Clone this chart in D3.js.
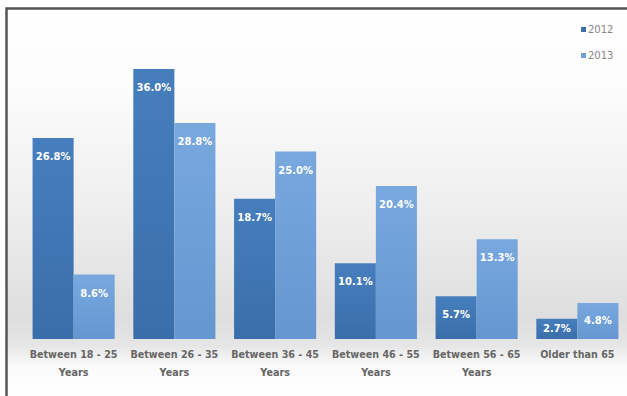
<!DOCTYPE html>
<html><head><meta charset="utf-8">
<script src="https://cdn.jsdelivr.net/npm/d3@7"></script>
<style>body{margin:0;background:#fff}svg{display:block}</style>
</head><body>
<svg id="c" width="627" height="396"></svg>
<script>
const categories = ["Between 18 - 25|Years","Between 26 - 35|Years","Between 36 - 45|Years","Between 46 - 55|Years","Between 56 - 65|Years","Older than 65"];
const seriesNames = ["2012","2013"];
const values2012 = [26.8, 36.0, 18.7, 10.1, 5.7, 2.7];
const values2013 = [8.6, 28.8, 25.0, 20.4, 13.3, 4.8];

const svg = d3.select("#c");
const W = 627, H = 396;
const defs = svg.append("defs");
const bg = defs.append("linearGradient").attr("id","bg").attr("x1",0).attr("y1",0).attr("x2",0).attr("y2",1);
[[0,"#ffffff"],[0.2,"#fcfcfc"],[0.5,"#efefef"],[0.8,"#dedede"],[0.87,"#e6e6e6"],[0.92,"#fafafa"],[1,"#ffffff"]].forEach(([o,c])=>bg.append("stop").attr("offset",o).attr("stop-color",c));
const g1 = defs.append("linearGradient").attr("id","g2012").attr("x1",0).attr("y1",0).attr("x2",0).attr("y2",1);
g1.append("stop").attr("offset",0).attr("stop-color","#467ebd");
g1.append("stop").attr("offset",1).attr("stop-color","#3a6eaa");
const g2 = defs.append("linearGradient").attr("id","g2013").attr("x1",0).attr("y1",0).attr("x2",0).attr("y2",1);
g2.append("stop").attr("offset",0).attr("stop-color","#78a8de");
g2.append("stop").attr("offset",1).attr("stop-color","#6596d0");

svg.append("rect").attr("x",6).attr("y",9).attr("width",W-6).attr("height",H-9).attr("fill","url(#bg)");
svg.append("path").attr("d",`M6.5,${H} V8.5 H${W}`).attr("fill","none").attr("stroke","#555").attr("stroke-width",2.5);

const x0 = d3.scaleBand().domain(categories).range([23.5,627.5]).paddingInner(0.185).paddingOuter(0.09);
const x1 = d3.scaleBand().domain(seriesNames).range([0,x0.bandwidth()]);
const y = d3.scaleLinear().domain([0,40]).range([339,39]);

const data = categories.map((c,i)=>({cat:c, vals:[{s:"2012",v:values2012[i]},{s:"2013",v:values2013[i]}]}));
const grp = svg.append("g").selectAll("g").data(data).join("g").attr("transform",d=>`translate(${x0(d.cat)},0)`);
grp.selectAll("rect").data(d=>d.vals).join("rect")
  .attr("x",d=>x1(d.s)).attr("width",x1.bandwidth())
  .attr("y",d=>y(d.v)).attr("height",d=>y(0)-y(d.v))
  .attr("fill",d=>d.s==="2012"?"url(#g2012)":"url(#g2013)");
grp.selectAll("text").data(d=>d.vals).join("text")
  .attr("x",d=>x1(d.s)+x1.bandwidth()/2)
  .attr("y",d=>Math.min(y(d.v)+22, (y(d.v)+y(0))/2+3))
  .attr("text-anchor","middle").attr("fill","#fff")
  .attr("font-family","'DejaVu Sans',sans-serif").attr("font-weight","bold").attr("font-size","10px")
  .text(d=>d.v.toFixed(1)+"%");

const ax = svg.append("g").attr("transform","translate(0,339)").call(d3.axisBottom(x0).tickSize(0).tickFormat(""));
ax.select(".domain").remove();
const lab = svg.append("g").selectAll("text").data(categories).join("text")
  .attr("x",d=>x0(d)+x0.bandwidth()/2).attr("y",358)
  .attr("text-anchor","middle").attr("fill","#666")
  .attr("font-family","'DejaVu Sans',sans-serif").attr("font-weight","bold").attr("font-size","9.6px");
lab.each(function(d){
  const parts=d.split("|");
  const t=d3.select(this);
  parts.forEach((p,i)=>t.append("tspan").attr("x",x0(d)+x0.bandwidth()/2).attr("dy",i?18:0).text(p));
});

const leg = svg.append("g").selectAll("g").data(seriesNames).join("g").attr("transform",(d,i)=>`translate(581,${31+i*26})`);
leg.append("rect").attr("x",0).attr("y",-4).attr("width",5).attr("height",5).attr("fill",(d,i)=>i?"#6d9fd8":"#3d6fa8");
leg.append("text").attr("x",7).attr("y",1.5).attr("fill","#888").attr("font-family","'DejaVu Sans',sans-serif").attr("font-size","10px").text(d=>d);
</script>
</body></html>
